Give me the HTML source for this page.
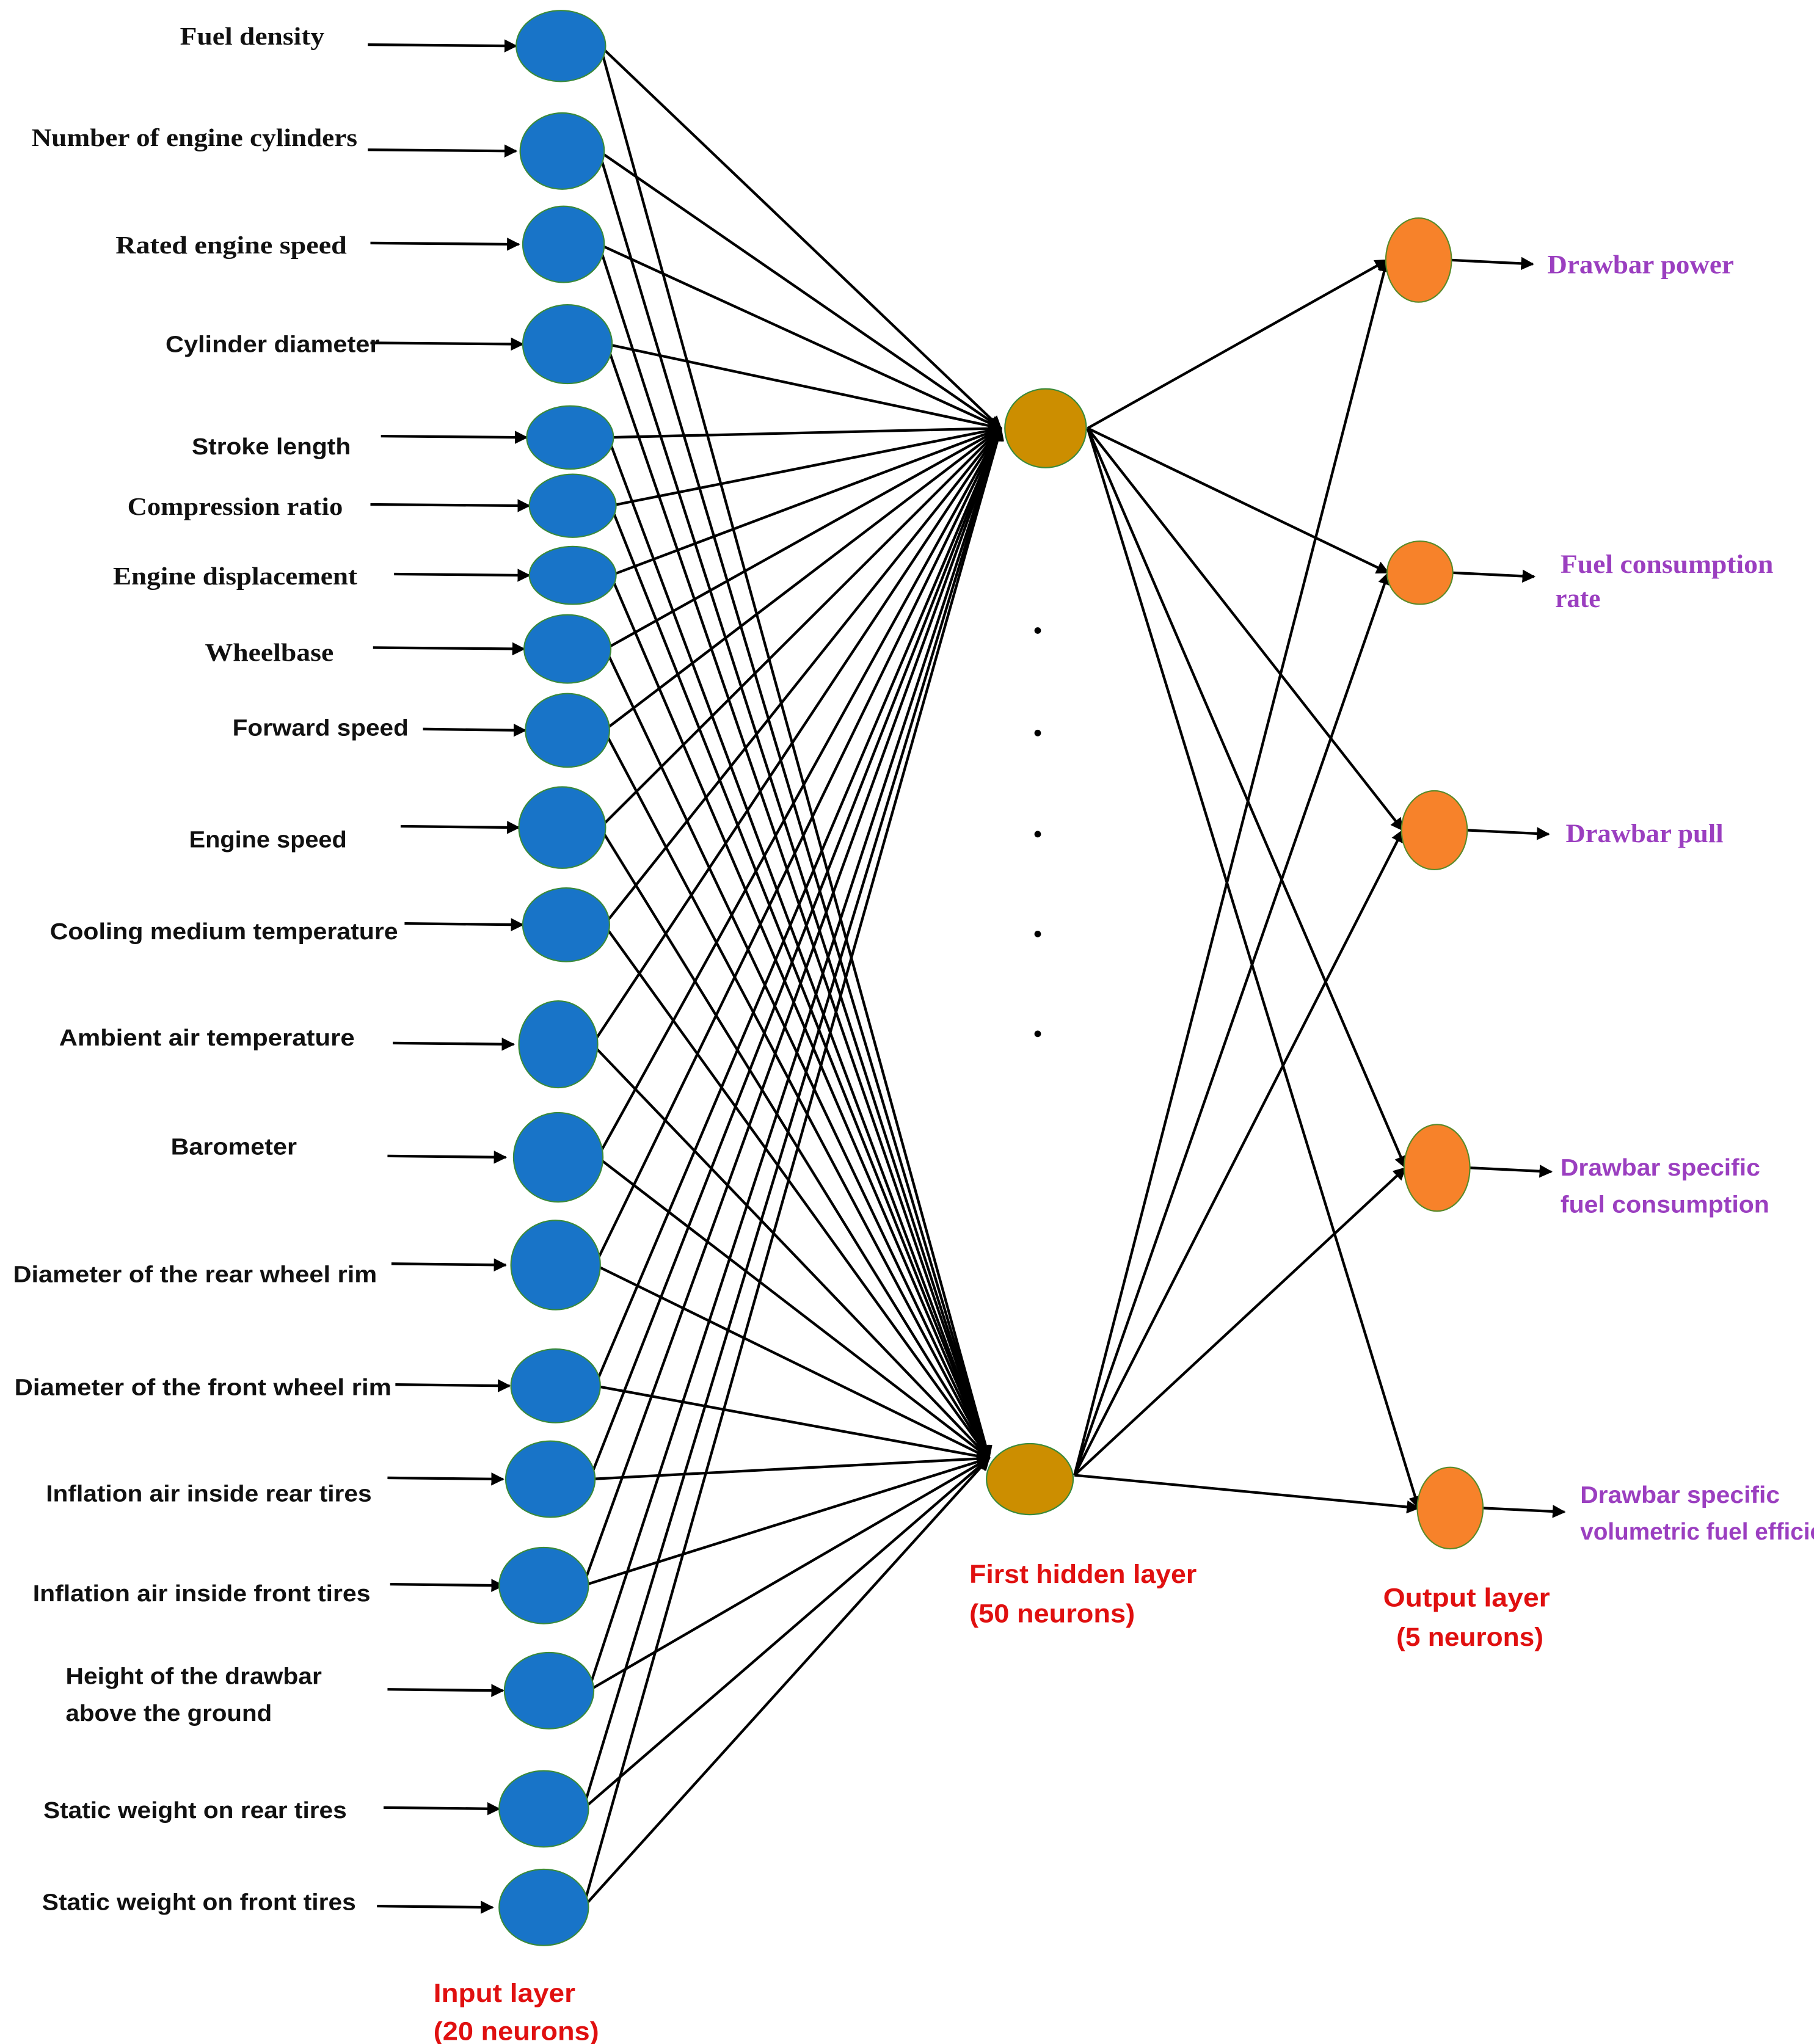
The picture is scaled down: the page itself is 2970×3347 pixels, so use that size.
<!DOCTYPE html>
<html><head><meta charset="utf-8"><style>
html,body{margin:0;padding:0;background:#fff;}
svg{display:block;}
.s{font-family:"Liberation Serif",serif;font-weight:bold;font-size:19px;fill:#111;}
.a{font-family:"Liberation Sans",sans-serif;font-weight:bold;font-size:17.5px;fill:#111;}
.p{font-family:"Liberation Serif",serif;font-weight:bold;font-size:20px;fill:#9B3FC0;}
.pa{font-family:"Liberation Sans",sans-serif;font-weight:bold;font-size:18px;fill:#9B3FC0;}
.r{font-family:"Liberation Sans",sans-serif;font-weight:bold;font-size:20px;fill:#E01010;}
</style></head><body>
<svg width="2970" height="3347" viewBox="0 0 1381 1556" preserveAspectRatio="none" xmlns="http://www.w3.org/2000/svg">
<defs><marker id="m" viewBox="0 0 10 10" refX="9" refY="5" markerWidth="5" markerHeight="5" orient="auto"><path d="M0,0 L10,5 L0,10 z" fill="#000"/></marker></defs>
<g id="lines" stroke="#000" stroke-width="2" fill="none" marker-end="url(#m)"></g>
<g id="nodes"></g>
<g id="labels"></g>
<g fill="#000"><circle cx="790" cy="480" r="2.5"/><circle cx="790" cy="558" r="2.5"/><circle cx="790" cy="635" r="2.5"/><circle cx="790" cy="711" r="2.5"/><circle cx="790" cy="787" r="2.5"/></g>
<text class="r" x="738" y="1205" textLength="173" lengthAdjust="spacingAndGlyphs">First hidden layer</text>
<text class="r" x="738" y="1235" textLength="126" lengthAdjust="spacingAndGlyphs">(50 neurons)</text>
<text class="r" x="1053" y="1223" textLength="127" lengthAdjust="spacingAndGlyphs">Output layer</text>
<text class="r" x="1063" y="1253" textLength="112" lengthAdjust="spacingAndGlyphs">(5 neurons)</text>
<text class="r" x="330" y="1524" textLength="108" lengthAdjust="spacingAndGlyphs">Input layer</text>
<text class="r" x="330" y="1553" textLength="126" lengthAdjust="spacingAndGlyphs">(20 neurons)</text>
<text class="p" x="1178" y="208" textLength="142" lengthAdjust="spacingAndGlyphs">Drawbar power</text>
<text class="p" x="1188" y="436" textLength="162" lengthAdjust="spacingAndGlyphs">Fuel consumption</text>
<text class="p" x="1184" y="462">rate</text>
<text class="p" x="1192" y="641" textLength="120" lengthAdjust="spacingAndGlyphs">Drawbar pull</text>
<text class="pa" x="1188" y="895" textLength="152" lengthAdjust="spacingAndGlyphs">Drawbar specific</text>
<text class="pa" x="1188" y="923" textLength="159" lengthAdjust="spacingAndGlyphs">fuel consumption</text>
<text class="pa" x="1203" y="1144" textLength="152" lengthAdjust="spacingAndGlyphs">Drawbar specific</text>
<text class="pa" x="1203" y="1172">volumetric fuel efficiency</text>
</svg>
<script>
var NS="http://www.w3.org/2000/svg";
function el(t,a,p,txt){var e=document.createElementNS(NS,t);for(var k in a)e.setAttribute(k,a[k]);if(txt)e.textContent=txt;document.getElementById(p).appendChild(e);return e;}
var inp=[
[427,35,34,27,"Fuel density","s",137,34,280,393,247],
[428,115,32,29,"Number of engine cylinders","s",24,111,280,393,272],
[429,186,31,29,"Rated engine speed","s",88,193,282,395,264],
[432,262,34,30,"Cylinder diameter","a",126,268,282,398,289],
[434,333,33,24,"Stroke length","a",146,346,290,401,267],
[436,385,33,24,"Compression ratio","s",97,392,282,403,261],
[436,438,33,22,"Engine displacement","s",86,445,300,403,272],
[432,494,33,26,"Wheelbase","s",156,503,284,399,254],
[432,556,32,28,"Forward speed","a",177,560,322,400,311],
[428,630,33,31,"Engine speed","a",144,645,305,395,264],
[431,704,33,28,"Cooling medium temperature","a",38,715,308,398,303],
[425,795,30,33,"Ambient air temperature","a",45,796,299,391,270],
[425,881,34,34,"Barometer","a",130,879,295,385,226],
[423,963,34,34,"Diameter of the rear wheel rim","a",10,976,298,385,287],
[423,1055,34,28,"Diameter of the front wheel rim","a",11,1062,301,388,298],
[419,1126,34,29,"Inflation air inside rear tires","a",35,1143,295,383,283],
[414,1207,34,29,"Inflation air inside front tires","a",25,1219,297,383,282],
[418,1287,34,29,"Height of the drawbar","a",50,1282,295,383,245],
[414,1377,34,29,"Static weight on rear tires","a",33,1384,292,380,264],
[414,1452,34,29,"Static weight on front tires","a",32,1454,287,375,271]];
var h=[[796,326,31,30],[784,1126,33,27]];
var o=[[1080,198,25,32],[1081,436,25,24],[1092,632,25,30],[1094,889,25,33],[1104,1148,25,31]];
inp.forEach(function(n){
 var x=n[0]+n[2]-4,y=n[1];
 el("line",{x1:x,y1:y,x2:762,y2:326},"lines");
 el("line",{x1:x,y1:y,x2:753,y2:1110},"lines");
 el("line",{x1:n[8],y1:n[1]-1,x2:n[9],y2:n[1]},"lines");
 el("ellipse",{cx:n[0],cy:n[1],rx:n[2],ry:n[3],fill:"#1874C8",stroke:"#3A8A3A","stroke-width":1},"nodes");
 el("text",{x:n[6],y:n[7],"class":n[5],textLength:n[10]-n[6],lengthAdjust:"spacingAndGlyphs"},"labels",n[4]);
});
el("text",{x:50,y:1310,"class":"a",textLength:157,lengthAdjust:"spacingAndGlyphs"},"labels","above the ground");
o.forEach(function(n){
 el("line",{x1:828,y1:326,x2:n[0]-n[2]+1,y2:n[1]},"lines");
 el("line",{x1:818,y1:1123,x2:n[0]-n[2]+1,y2:n[1]},"lines");
 el("line",{x1:n[0]+n[2],y1:n[1],x2:n[0]+n[2]+62,y2:n[1]+3},"lines");
 el("ellipse",{cx:n[0],cy:n[1],rx:n[2],ry:n[3],fill:"#F7822A",stroke:"#5A8A2A","stroke-width":1},"nodes");
});
h.forEach(function(n){el("ellipse",{cx:n[0],cy:n[1],rx:n[2],ry:n[3],fill:"#CC8E00",stroke:"#3A8A3A","stroke-width":1},"nodes");});
</script>
</body></html>
